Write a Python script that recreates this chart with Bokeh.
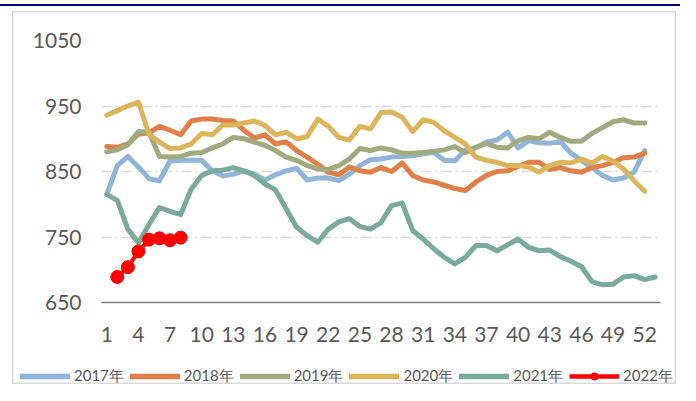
from bokeh.plotting import figure
from bokeh.models import Range1d, FixedTicker, Legend, LegendItem, InlineStyleSheet
from bokeh.embed import file_html
from bokeh.resources import INLINE

weeks = list(range(1, 54))
tick_weeks = list(range(1, 54, 3))
y_ticks = [650, 750, 850, 950, 1050]

s2017 = [815, 859, 873, 857, 839, 836, 866, 867, 867, 867, 851, 843, 846, 851, 846, 837, 845, 851, 855, 837,
         840, 840, 836, 846, 859, 868, 869, 872, 873, 874, 877, 879, 867, 866, 883, 886, 895, 898, 910, 886,
         897, 894, 893, 896, 878, 867, 856, 844, 837, 840, 849, 882]
s2018 = [888, 887, 892, 907, 909, 919, 913, 906, 927, 930, 930, 928, 927, 913, 901, 906, 892, 895, 882, 872,
         861, 849, 845, 857, 851, 849, 856, 850, 863, 844, 837, 834, 829, 824, 821, 834, 844, 850, 851, 858,
         864, 864, 853, 856, 851, 849, 856, 859, 864, 871, 872, 878]
s2019 = [880, 883, 891, 911, 910, 873, 872, 873, 878, 879, 886, 892, 902, 900, 895, 890, 882, 872, 867, 859,
         854, 853, 859, 869, 885, 882, 886, 883, 878, 878, 879, 881, 883, 888, 879, 887, 893, 887, 886, 897,
         902, 900, 910, 902, 896, 896, 908, 917, 926, 929, 924, 924]
s2020 = [936, 943, 950, 956, 907, 895, 885, 886, 892, 908, 906, 921, 921, 924, 927, 920, 906, 910, 900, 903,
         930, 919, 902, 898, 919, 915, 940, 941, 933, 911, 929, 925, 912, 902, 892, 872, 867, 864, 859, 859,
         857, 849, 859, 864, 863, 869, 863, 873, 866, 854, 836, 820]
s2021 = [815, 806, 762, 741, 769, 795, 789, 784, 823, 844, 851, 852, 856, 851, 844, 831, 822, 793, 765, 752,
         742, 762, 773, 778, 766, 762, 772, 798, 802, 760, 747, 732, 719, 709, 719, 737, 737, 729, 738, 747,
         734, 729, 730, 720, 713, 705, 682, 677, 678, 689, 691, 685, 689]
weeks2022 = [2, 3, 4, 5, 6, 7, 8]
s2022 = [689, 704, 728, 746, 748, 745, 749]

names = ["2017年", "2018年", "2019年", "2020年", "2021年", "2022年"]
colors = ["#8fb5d8", "#e08048", "#a1aa7f", "#deb45a", "#7aaa9b", "#ff0000"]

FONT = "Lato"
TXT = "#595959"
LW = 5
GRAY = "#d9d9d9"

top_css = ", ".join([
    "inset 0 4px 0 0 #fff", "inset 0 6px 0 0 #000080", "inset 0 11px 0 0 #fff",
    "inset 12px 0 0 0 #fff", "inset -4px 0 0 0 #fff",
    "inset 13.5px 0 0 0 " + GRAY, "inset -5.5px 0 0 0 " + GRAY, "inset 0 12.5px 0 0 " + GRAY])
bottom_css = ", ".join([
    "inset 0 -4px 0 0 #fff", "inset 12px 0 0 0 #fff", "inset -4px 0 0 0 #fff",
    "inset 13.5px 0 0 0 " + GRAY, "inset -5.5px 0 0 0 " + GRAY, "inset 0 -5.5px 0 0 " + GRAY])


def framed(shadow):
    return dict(styles={"box-shadow": shadow, "background-color": "#ffffff"},
                stylesheets=[InlineStyleSheet(css=":host { box-shadow: " + shadow +
                                                  "; background-color: #ffffff; }")])


# ---- main chart ----
p = figure(width=680, height=354, output_backend="svg", toolbar_location=None,
           x_range=Range1d(0.5, 53.5), y_range=Range1d(650, 1050),
           min_border_left=101, min_border_right=20, min_border_top=40, min_border_bottom=52,
           **framed(top_css))
p.background_fill_color = None
p.border_fill_color = None
p.outline_line_color = None

p.xaxis.ticker = FixedTicker(ticks=tick_weeks)
p.yaxis.ticker = FixedTicker(ticks=y_ticks)
p.xaxis.major_tick_line_color = None
p.xaxis.minor_tick_line_color = None
p.yaxis.major_tick_line_color = None
p.yaxis.minor_tick_line_color = None
p.yaxis.axis_line_color = None
p.xaxis.axis_line_color = "#7f7f7f"
p.xaxis.axis_line_width = 1.5
for ax in (p.xaxis, p.yaxis):
    ax.major_label_text_font = FONT
    ax.major_label_text_font_size = "21px"
    ax.major_label_text_color = TXT
p.xaxis.major_label_standoff = 18
p.yaxis.major_label_standoff = 14

p.xgrid.grid_line_color = None
p.ygrid.ticker = FixedTicker(ticks=[750, 850, 950, 1050])
p.ygrid.grid_line_color = GRAY
p.ygrid.grid_line_width = 1.5
p.ygrid.grid_line_dash = "10 4 2 4"

for s, c in zip([s2017, s2018, s2019, s2020, s2021], colors[:5]):
    p.line(weeks[:len(s)], s, line_color=c, line_width=LW, line_join="round", line_cap="round")
p.line(weeks2022, s2022, line_color=colors[5], line_width=4, line_join="round")
p.scatter(weeks2022, s2022, size=13, fill_color=colors[5], line_color=colors[5])

# ---- legend strip (separate root, so its frame is not aligned with the chart) ----
q = figure(width=680, height=34, output_backend="svg", toolbar_location=None,
           x_axis_type=None, y_axis_type=None,
           x_range=Range1d(0, 1), y_range=Range1d(0, 1),
           min_border_left=0, min_border_right=0, min_border_top=0, min_border_bottom=0,
           **framed(bottom_css))
q.grid.visible = False
q.outline_line_color = None
q.background_fill_color = None
q.border_fill_color = None

hx = [-5, -4]
hy = [-5, -5]
items = []
for n, c in zip(names[:5], colors[:5]):
    r = q.line(hx, hy, line_color=c, line_width=5.5, line_cap="round")
    items.append(LegendItem(label=n, renderers=[r]))
rl = q.line(hx, hy, line_color=colors[5], line_width=4.5)
rc = q.scatter(hx, hy, size=11, fill_color=colors[5], line_color=colors[5])
items.append(LegendItem(label=names[5], renderers=[rl, rc]))

legend = Legend(items=items, orientation="horizontal", location=(20, 2),
                glyph_width=50, glyph_height=18, label_standoff=4, spacing=6,
                padding=0, margin=0, border_line_alpha=0, background_fill_alpha=0,
                label_text_font=FONT, label_text_font_size="15px", label_text_color=TXT)
q.add_layout(legend, "center")

open("out.html", "w").write(file_html([p, q], INLINE))
